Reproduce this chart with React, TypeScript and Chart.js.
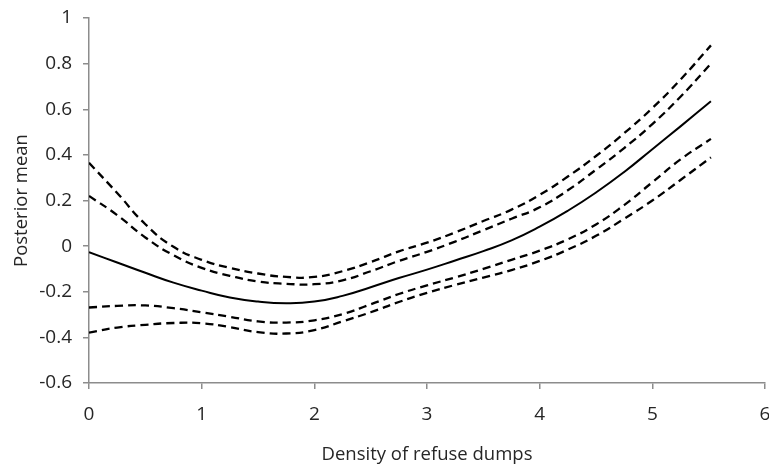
import React, { useEffect, useRef } from "react";
import { Chart, registerables } from "chart.js";

Chart.register(...registerables);

const densityX = [0, 0.25, 0.5, 0.75, 1, 1.25, 1.5, 1.75, 2, 2.25, 2.5, 2.75, 3, 3.25, 3.5, 3.75, 4, 4.25, 4.5, 4.75, 5, 5.25, 5.52];
const posteriorMean = [-0.027, -0.072, -0.117, -0.16, -0.195, -0.225, -0.243, -0.25, -0.243, -0.218, -0.18, -0.14, -0.103, -0.063, -0.022, 0.025, 0.085, 0.155, 0.235, 0.325, 0.425, 0.525, 0.635];
const upperOuter = [0.365, 0.233, 0.096, -0.003, -0.06, -0.095, -0.12, -0.135, -0.135, -0.11, -0.07, -0.023, 0.015, 0.06, 0.11, 0.16, 0.225, 0.305, 0.395, 0.495, 0.605, 0.73, 0.88];
const upperInner = [0.22, 0.136, 0.038, -0.04, -0.095, -0.13, -0.155, -0.165, -0.167, -0.15, -0.11, -0.065, -0.025, 0.02, 0.07, 0.12, 0.17, 0.245, 0.335, 0.43, 0.535, 0.655, 0.8];
const lowerInner = [-0.269, -0.262, -0.26, -0.272, -0.29, -0.31, -0.33, -0.335, -0.325, -0.298, -0.255, -0.21, -0.172, -0.137, -0.1, -0.06, -0.02, 0.03, 0.095, 0.18, 0.28, 0.38, 0.47];
const lowerOuter = [-0.379, -0.357, -0.345, -0.337, -0.338, -0.355, -0.377, -0.383, -0.368, -0.33, -0.29, -0.245, -0.205, -0.17, -0.138, -0.105, -0.065, -0.015, 0.045, 0.12, 0.2, 0.29, 0.389];

const xTitle = "Density of refuse dumps";
const yTitle = "Posterior mean";

const FONT = "'Open Sans', sans-serif";
const AXIS_COLOR = "#8c8c8c";
const TEXT_COLOR = "#262626";

function toPoints(ys: number[]) {
  return densityX.map((x, i) => ({ x, y: ys[i] }));
}

export default function App() {
  const canvasRef = useRef<HTMLCanvasElement | null>(null);

  useEffect(() => {
    const canvas = canvasRef.current;
    if (!canvas) return;
    const dashed = (data: number[]) => ({
      data: toPoints(data),
      borderColor: "#000",
      borderWidth: 2.3,
      borderDash: [8, 5],
      pointRadius: 0,
      fill: false,
      tension: 0.5,
    });
    const chart = new Chart(canvas, {
      type: "line",
      data: {
        datasets: [
          {
            data: toPoints(posteriorMean),
            borderColor: "#000",
            borderWidth: 2,
            pointRadius: 0,
            fill: false,
            tension: 0.5,
          },
          dashed(upperOuter),
          dashed(upperInner),
          dashed(lowerInner),
          dashed(lowerOuter),
        ],
      },
      options: {
        animation: false,
        responsive: false,
        maintainAspectRatio: false,
        layout: { padding: { top: 18, right: 4, left: 0, bottom: 0 } },
        plugins: { legend: { display: false }, tooltip: { enabled: false } },
        scales: {
          x: {
            type: "linear",
            min: 0,
            max: 6,
            ticks: {
              stepSize: 1,
              padding: 14,
              color: TEXT_COLOR,
              font: { family: FONT, size: 19 },
            },
            grid: { drawOnChartArea: false, drawTicks: true, tickLength: 6, color: AXIS_COLOR, lineWidth: 1.5 },
            border: { display: true, color: AXIS_COLOR, width: 1.5 },
            title: {
              display: true,
              text: xTitle,
              color: TEXT_COLOR,
              font: { family: FONT, size: 18.5 },
              padding: { top: 10, bottom: 2 },
            },
            afterFit: (scale: any) => {
              scale.height = 85;
              scale.paddingLeft = 0;
              scale.paddingRight = 0;
            },
          },
          y: {
            type: "linear",
            min: -0.6,
            max: 1,
            ticks: {
              stepSize: 0.2,
              padding: 11,
              color: TEXT_COLOR,
              font: { family: FONT, size: 19 },
              callback: (v: any) => String(Number(Number(v).toFixed(1))),
            },
            grid: { drawOnChartArea: false, drawTicks: true, tickLength: 6, color: AXIS_COLOR, lineWidth: 1.5 },
            border: { display: true, color: AXIS_COLOR, width: 1.5 },
            title: {
              display: true,
              text: yTitle,
              color: TEXT_COLOR,
              font: { family: FONT, size: 18.5 },
              padding: { top: 11, bottom: 0 },
            },
            afterFit: (scale: any) => {
              scale.width = 89;
              scale.paddingTop = 0;
              scale.paddingBottom = 0;
            },
          },
        },
      },
    });
    return () => chart.destroy();
  }, []);

  return (
    <div style={{ position: "absolute", left: 0, top: 0, width: 769, height: 468, background: "#fff" }}>
      <canvas ref={canvasRef} width={769} height={468} style={{ display: "block", width: 769, height: 468 }} />
    </div>
  );
}
